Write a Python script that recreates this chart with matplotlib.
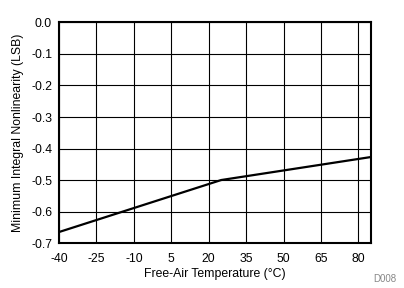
import matplotlib
matplotlib.use('Agg')
import matplotlib.pyplot as plt

temp = [-40, 25, 85]
inl_min = [-0.665, -0.5, -0.427]

xticks = [-40, -25, -10, 5, 20, 35, 50, 65, 80]
yticks = [-0.7, -0.6, -0.5, -0.4, -0.3, -0.2, -0.1, 0.0]

plt.rcParams['font.family'] = ['Liberation Sans', 'DejaVu Sans']
plt.rcParams['axes.unicode_minus'] = False

fig = plt.figure(figsize=(4.04, 2.88), dpi=100)
ax = fig.add_axes([0.146, 0.156, 0.772, 0.766])

ax.plot(temp, inl_min, color='black', linewidth=1.6)

ax.set_xlim(-40, 85)
ax.set_ylim(-0.7, 0.0)
ax.set_xticks(xticks)
ax.set_yticks(yticks)
ax.set_yticklabels(['%.1f' % v for v in yticks])
ax.tick_params(labelsize=8.8, length=0)
ax.tick_params(axis='x', pad=7)
ax.tick_params(axis='y', pad=5)
ax.grid(True, color='black', linewidth=0.8)
for s in ax.spines.values():
    s.set_linewidth(1.5)

ax.set_xlabel('Free-Air Temperature (°C)', fontsize=8.8, labelpad=2)
ax.set_ylabel('Minimum Integral Nonlinearity (LSB)', fontsize=8.8, labelpad=5)

fig.text(0.952, 0.022, 'D008', fontsize=7, color='#888888', ha='center')

fig.savefig('out.png', dpi=100)
